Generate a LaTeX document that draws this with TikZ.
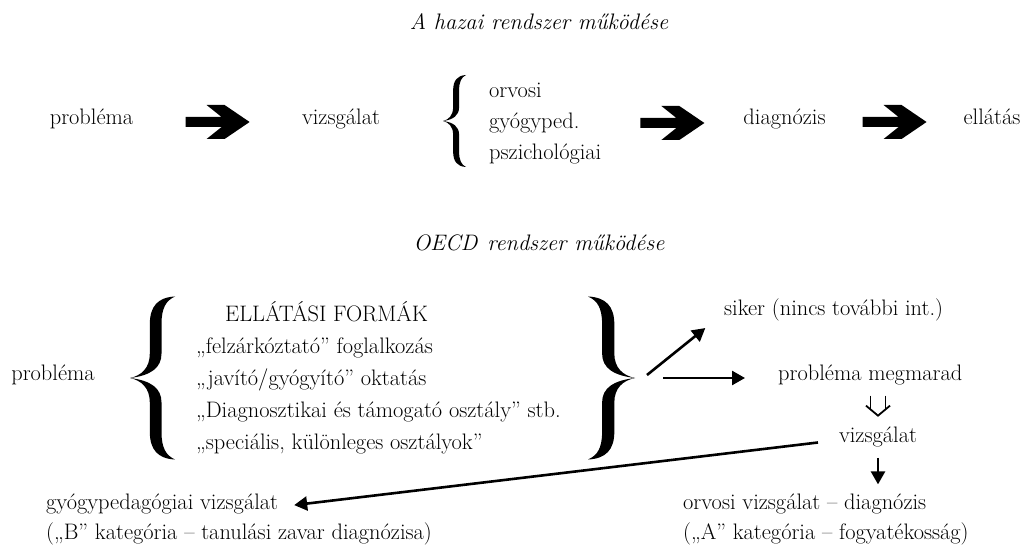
\documentclass[tikz,border=0pt]{standalone}
\usepackage{fontspec}
\usetikzlibrary{arrows.meta,positioning,calc}

\tikzset{
  bigarrow/.pic={
    \fill (-32,5) -- (4,5) -- (-11,17) -- (7,17) -- (32,0) -- (7,-17) -- (-11,-17) -- (4,-5) -- (-32,-5) -- cycle;
  },
  dbldown/.pic={
    \draw[line width=1.8pt] (-7.5,10) -- (-7.5,-4) (7.5,10) -- (7.5,-4);
    \draw[line width=1.8pt, line join=miter] (-12,0) -- (0,-10) -- (12,0);
  },
  curly/.pic={
    \fill (1,1) .. controls (0.62,0.99) and (0.44,0.88) .. (0.44,0.66) -- (0.44,0.3)
      .. controls (0.44,0.12) and (0.25,0.03) .. (0,0)
      .. controls (0.25,-0.03) and (0.44,-0.12) .. (0.44,-0.3) -- (0.44,-0.66)
      .. controls (0.44,-0.88) and (0.62,-0.99) .. (1,-1)
      .. controls (0.8,-0.95) and (0.70,-0.86) .. (0.70,-0.66) -- (0.70,-0.3)
      .. controls (0.70,-0.12) and (0.45,-0.03) .. (0,0)
      .. controls (0.45,0.03) and (0.70,0.12) .. (0.70,0.3) -- (0.70,0.66)
      .. controls (0.70,0.86) and (0.8,0.95) .. (1,1) -- cycle;
  },
}

\begin{document}
\begin{tikzpicture}[
  x=1pt, y=1pt,
  font=\fontsize{22.4}{31}\selectfont,
  txt/.style = {inner sep=0pt, anchor=mid},
  lst/.style = {inner sep=0pt, align=left, anchor=west},
  ttl/.style = {inner sep=0pt, anchor=mid, font=\fontsize{22.4}{31}\selectfont\itshape},
  arr/.style = {-{Triangle[length=13pt, width=14pt]}, line width=2.6pt},
]
\useasboundingbox (0,0) rectangle (1023,547);

% --- the home system ------------------------------------------------------------
\node[ttl] (home) at (539,520) {A hazai rendszer működése};
\node[txt] (prob1) at (91.5,425) {probléma};
\node[txt] (vizsg1) at (341,425) {vizsgálat};
\coordinate (tb) at (443,426);
\pic[xscale=23, yscale=46] at (tb) {curly};
\node[lst] (kinds) at (489,423) {orvosi\\gyógyped.\\pszichológiai};
\node[txt] (diag) at (784.5,425) {diagnózis};
\node[txt] (ell) at (992,425) {ellátás};

\pic at ($(prob1.mid east)!0.5!(vizsg1.mid west)$) {bigarrow};
\pic at ($(kinds.east)!0.5!(diag.mid west)$) {bigarrow};
\pic at ($(diag.mid east)!0.5!(ell.mid west)$) {bigarrow};

% --- the OECD system ------------------------------------------------------------
\node[ttl] (oecd) at (539,299) {OECD\hspace{0.45em}rendszer működése};
\node[txt] (prob2) at (53,169) {probléma};
\coordinate (lb) at (130,169);
\pic[xscale=45, yscale=81.5] at (lb) {curly};
\node[lst, font=\fontsize{22.4}{32}\selectfont] (forms) at (196,169)
  {\hspace*{29pt}ELLÁTÁSI FORMÁK\\
   „felzárkóztató” foglalkozás\\
   „javító/gyógyító” oktatás\\
   „Diagnosztikai és támogató osztály” stb.\\
   „speciális, különleges osztályok”};
\coordinate (rb) at (635,169);
\pic[xscale=-47, yscale=81.5] at (rb) {curly};

\node[txt, anchor=mid west] (siker) at (724,234) {siker (nincs további int.)};
\node[txt, anchor=mid west] (megmarad) at (778,169) {probléma megmarad};
\node[txt] (vizsg2) at (878,107) {vizsgálat};

\node[txt, anchor=mid west] (gyogy) at (46,40) {gyógypedagógiai vizsgálat};
\node[txt, anchor=base west] (gyogyB) at ([yshift=-30pt]gyogy.base west)
  {(„B” kategória – tanulási zavar diagnózisa)};
\node[txt, anchor=mid west] (orvos) at (683,40) {orvosi vizsgálat – diagnózis};
\node[txt, anchor=base west] (orvosA) at ([yshift=-30pt]orvos.base west)
  {(„A” kategória – fogyatékosság)};

% --- what happens after the forms ----------------------------------------------
\draw[arr, shorten >=24pt] ([shift={(12,3)}]rb) -- (siker.mid west);
\draw[arr, shorten >=33pt] ([xshift=28pt]rb) -- (megmarad.mid west);
\pic at ($(vizsg2.north)!0.5!(vizsg2.north |- megmarad.south)$) {dbldown};
\draw[arr, shorten <=11pt, shorten >=9pt] (vizsg2.south) -- (vizsg2.south |- orvos.north);
\draw[arr, shorten <=21pt, shorten >=16pt] (vizsg2.mid west) -- (gyogy.mid east);

\end{tikzpicture}
\end{document}
